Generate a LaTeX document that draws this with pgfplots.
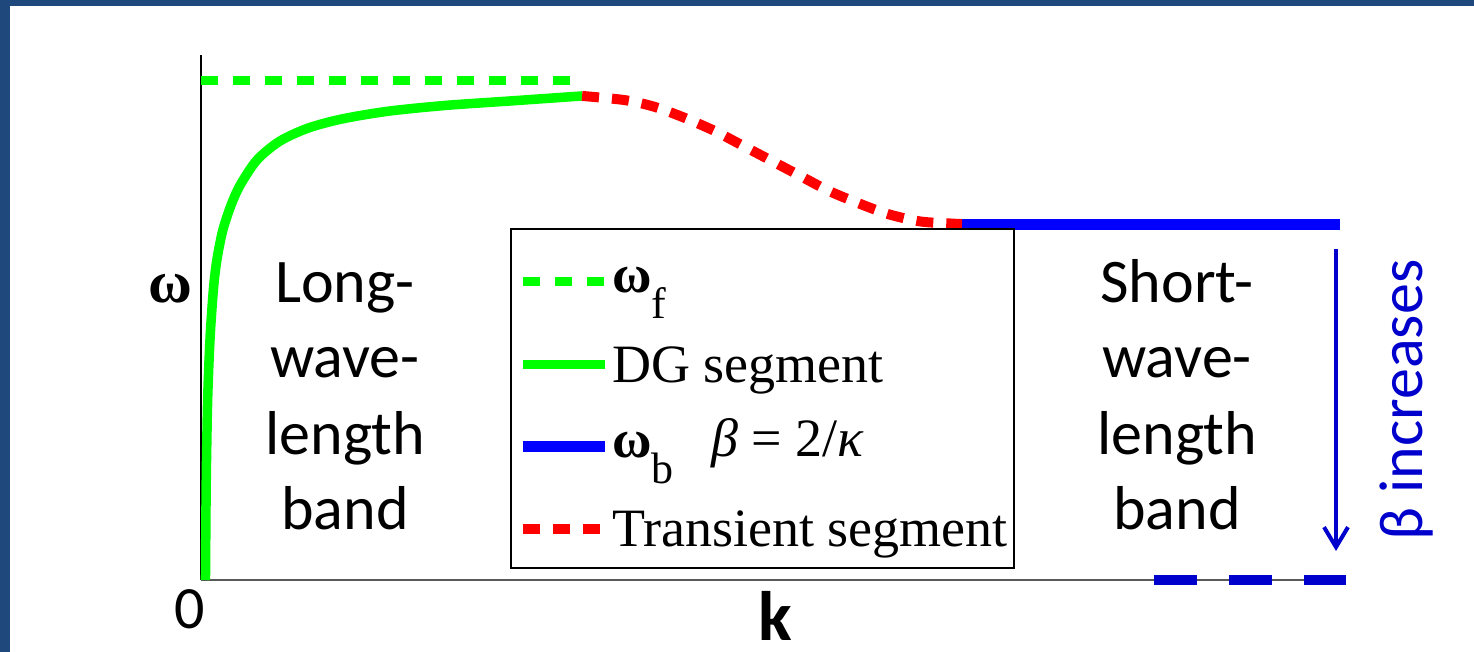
\documentclass[border=0pt]{standalone}
\usepackage{fontspec}
\setmainfont{Liberation Serif}
\newfontfamily\calibri{Carlito}
\usepackage{pgfplots}
\pgfplotsset{compat=1.18}
\usetikzlibrary{arrows.meta}
\definecolor{pgreen}{RGB}{0,255,0}
\definecolor{pred}{RGB}{255,0,0}
\definecolor{pblue}{RGB}{0,0,255}
\definecolor{dblue}{RGB}{0,0,205}
\definecolor{frameblue}{RGB}{31,73,125}
\begin{document}
\begin{tikzpicture}
\useasboundingbox (0pt,0pt) rectangle (737pt,-326pt);
\begin{scope}[x=0.5pt,y=-0.5pt]
  \fill[frameblue] (0,0) rectangle (1474,6);
  \fill[frameblue] (0,0) rectangle (10,652);
\end{scope}
\begin{axis}[
  at={(100.5pt,-290pt)}, anchor=south west,
  scale only axis, width=572.5pt, height=262.5pt,
  xmin=0, xmax=1, ymin=0, ymax=1,
  axis lines=left,
  axis line style={-, line width=1pt},
  x axis line style={gray!70!black},
  y axis line style={black},
  xtick=\empty, ytick=\empty,
  clip=false,
  legend cell align=left,
  legend image code/.code={\draw[#1,line cap=butt] (0pt,9pt) -- (41pt,9pt); \path (41pt,0pt);},
  legend style={at={(0.2699,0.6705)}, anchor=north west, draw=black, line width=1pt, fill=white,
    inner xsep=3pt, inner ysep=2.4pt, row sep=0pt,
    font=\fontsize{27}{30}\selectfont,
    cells={anchor=base west},
    nodes={inner sep=0pt, text height=33.1pt, text depth=8.05pt}},
]
% omega_f
\addplot[pgreen, line width=4.5pt, dash pattern=on 8.5pt off 7.5pt, line cap=butt] coordinates {(0,0.951) (0.323,0.951)};
\addlegendentry{\hspace{1pt}\raisebox{3.5pt}{\bfseries ω}\raisebox{-9.5pt}{\fontsize{22}{22}\selectfont f}}
% DG segment
\addplot[pgreen, line width=4.75pt, smooth, tension=0.5, line cap=butt, line join=round] coordinates {
(0.0039,0) (0.0044,0.15) (0.0049,0.24) (0.0059,0.35) (0.0079,0.46) (0.0109,0.555)
(0.0139,0.61) (0.0189,0.665) (0.0259,0.712) (0.0339,0.751) (0.0489,0.800)
(0.0689,0.836) (0.0939,0.861) (0.1239,0.8785) (0.1639,0.893) (0.2139,0.904)
(0.2739,0.913) (0.3328,0.922)};
\addlegendentry{\hspace{1pt}DG segment}
% omega_b
\addplot[pblue, line width=5.5pt, line cap=butt] coordinates {(0.6646,0.678) (0.9948,0.678)};
\addlegendentry{\hspace{1pt}\raisebox{3.5pt}{\bfseries ω}\raisebox{-9.5pt}{\fontsize{22}{22}\selectfont b}\hspace{19pt}\raisebox{4pt}{{\itshape β} = 2/{\itshape κ}}}
% transient
\addplot[pred, line width=5pt, dash pattern=on 8.5pt off 6.5pt, line cap=butt, smooth, tension=0.5] coordinates {
(0.3328,0.922) (0.3703,0.914) (0.3965,0.901) (0.4227,0.880) (0.4489,0.855)
(0.4734,0.827) (0.4987,0.798) (0.5231,0.770) (0.5485,0.741) (0.5738,0.718)
(0.6000,0.697) (0.6280,0.683) (0.6550,0.679) (0.6646,0.678)};
\addlegendentry{\hspace{1pt}Transient segment}
% lowered omega_b
\addplot[dblue, line width=5.3pt, dash pattern=on 21.5pt off 16pt, line cap=butt, forget plot] coordinates {(0.8323,0) (1.0,0)};
\end{axis}
\begin{scope}[x=0.5pt,y=-0.5pt]
  \node[anchor=base, inner sep=0pt, font=\bfseries\fontsize{30}{30}\selectfont] at (170.5,303) {ω};
  \node[anchor=base, inner sep=0pt, font=\calibri\fontsize{30}{30}\selectfont] at (190,628) {0};
  \node[anchor=base, inner sep=0pt, font=\calibri\bfseries\fontsize{35}{35}\selectfont] at (775,640) {k};
  \foreach \t/\y in {Long-/303, wave-/378, length/454, band/530}
    \node[anchor=base, font=\calibri\fontsize{31}{31}\selectfont] at (345,\y) {\t};
  \foreach \t/\y in {Short-/303, wave-/378, length/454, band/530}
    \node[anchor=base, font=\calibri\fontsize{31}{31}\selectfont] at (1177,\y) {\t};
  \draw[dblue, line width=2pt, -{Straight Barb[length=10pt,width=12pt,line width=2pt]}] (1336,249) -- (1336,551);
  \node[anchor=base, rotate=90, text=dblue, font=\calibri\fontsize{31}{31}\selectfont] at (1422,400) {β increases};
\end{scope}
\end{tikzpicture}
\end{document}
